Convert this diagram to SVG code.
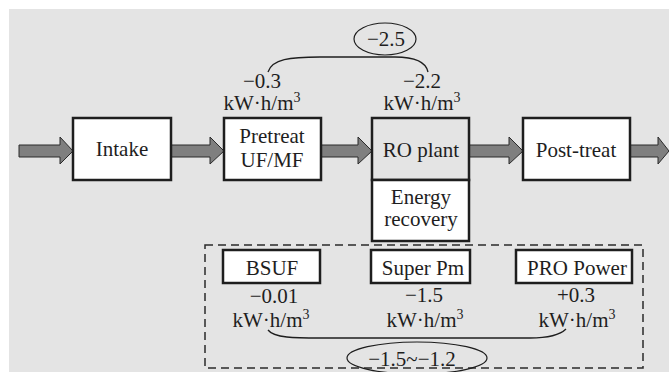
<svg xmlns="http://www.w3.org/2000/svg" width="669" height="372" viewBox="0 0 669 372">
<style>
text{font-family:"Liberation Serif","DejaVu Serif","Noto Serif",serif;font-size:21px;fill:#1e1e1e;text-anchor:middle}
.box{fill:#fff;stroke:#1e1e1e;stroke-width:2.5}
.gbox{fill:#e4e4e4;stroke:#1e1e1e;stroke-width:2.5}
.arr{fill:#7f7f7f;stroke:#2a2a2a;stroke-width:1}
.brace{fill:none;stroke:#1e1e1e;stroke-width:1.3}
.sup{font-size:14px}
</style>
<rect x="0" y="0" width="669" height="372" fill="#fff"/>
<rect x="9" y="9" width="660" height="363" fill="#e4e4e4"/>

<g id="connectors">
<path class="arr" d="M19,145 H60 V137 L73,151 L60,164 V157 H19 Z"/>
<path class="arr" d="M171,145 H210 V137 L224,151 L210,164 V157 H171 Z"/>
<path class="arr" d="M321,145 H358 V137 L372,151 L358,164 V157 H321 Z"/>
<path class="arr" d="M469,145 H509 V137 L523,151 L509,164 V157 H469 Z"/>
<path class="arr" d="M630,145 H658 V137 L669,151 L658,164 V157 H630 Z"/>
<path class="brace" d="M268,72 C272,59 290,57 320,57 L395,57 C415,57 426,62 428,72"/>
<path class="brace" d="M268,330 C274,338 295,338 320,338 L530,338 C550,338 560,335 566,329"/>
</g>

<g id="intake"><rect class="box" x="73" y="118" width="98" height="62"/><text x="122" y="156" font-family="Liberation Serif, serif">Intake</text></g>
<g id="pretreat"><rect class="box" x="224" y="118" width="97" height="62"/><text x="272" y="143">Pretreat</text><text x="272" y="167">UF/MF</text></g>
<g id="ro-plant"><rect class="gbox" x="372" y="118" width="97" height="62"/><text x="421" y="157">RO plant</text></g>
<g id="energy-recovery"><rect class="box" x="372" y="180" width="97" height="61"/><text x="421" y="204">Energy</text><text x="421" y="226">recovery</text></g>
<g id="post-treat"><rect class="box" x="523" y="118" width="107" height="62"/><text x="576" y="157">Post-treat</text></g>

<g id="total-top"><ellipse cx="385" cy="39" rx="31" ry="16" fill="none" stroke="#1e1e1e" stroke-width="1.2"/><text x="386" y="46">−2.5</text></g>
<g id="pretreat-energy"><text x="262" y="88">−0.3</text><text x="262" y="110">kW·h/m<tspan class="sup" dy="-8">3</tspan></text></g>
<g id="ro-energy"><text x="422" y="88">−2.2</text><text x="422" y="110">kW·h/m<tspan class="sup" dy="-8">3</tspan></text></g>

<g id="options"><rect x="205" y="245" width="438" height="123" fill="none" stroke="#2a2a2a" stroke-width="1.5" stroke-dasharray="8,5"/></g>
<g id="bsuf"><rect class="box" x="223" y="250" width="97" height="33"/><text x="272" y="275">BSUF</text><text x="274" y="303">−0.01</text><text x="271" y="327">kW·h/m<tspan class="sup" dy="-8">3</tspan></text></g>
<g id="super-pm"><rect class="box" x="371" y="250" width="99" height="33"/><text x="423" y="275">Super Pm</text><text x="424" y="302">−1.5</text><text x="425" y="327">kW·h/m<tspan class="sup" dy="-8">3</tspan></text></g>
<g id="pro-power"><rect class="box" x="516" y="250" width="116" height="33"/><text x="577" y="275">PRO Power</text><text x="576" y="302">+0.3</text><text x="577" y="327">kW·h/m<tspan class="sup" dy="-8">3</tspan></text></g>
<g id="total-bottom"><ellipse cx="417" cy="358" rx="70" ry="16" fill="none" stroke="#1e1e1e" stroke-width="1.2"/><text x="412" y="366">−1.5~−1.2</text></g>
</svg>
